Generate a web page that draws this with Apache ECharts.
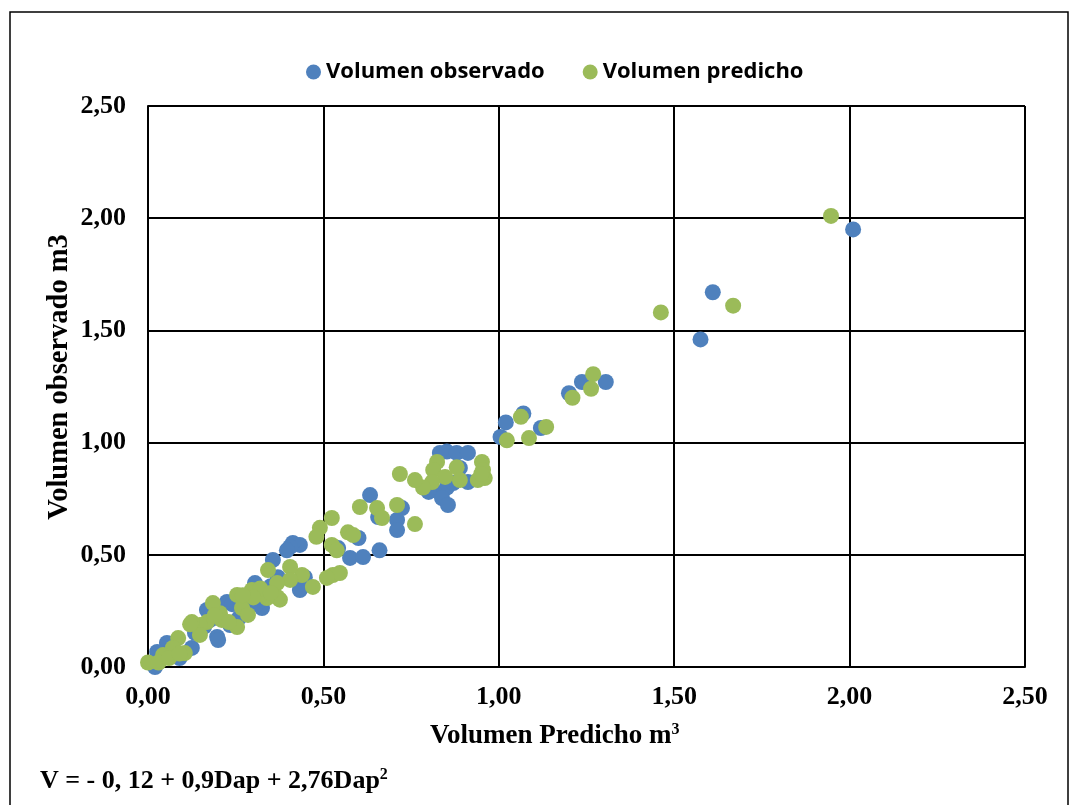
<!DOCTYPE html>
<html>
<head>
<meta charset="utf-8">
<script src="https://cdn.jsdelivr.net/npm/echarts@6/dist/echarts.min.js"></script>
<style>
  html, body { margin: 0; padding: 0; background: #fff; }
  #chart { width: 1071px; height: 805px; }
</style>
</head>
<body>
<div id="chart"></div>
<script>
// [predicho, observado]
var volObservado = [
  [2.01, 1.95], [1.61, 1.67], [1.575, 1.46], [1.305, 1.27], [1.237, 1.27],
  [1.20, 1.22], [1.12, 1.065], [1.07, 1.13], [1.02, 1.09], [1.005, 1.025],
  [0.832, 0.954], [0.852, 0.96], [0.88, 0.954], [0.912, 0.954], [0.889, 0.887],
  [0.912, 0.824], [0.852, 0.80], [0.813, 0.79], [0.80, 0.78], [0.838, 0.753],
  [0.855, 0.722], [0.87, 0.82], [0.633, 0.766], [0.656, 0.668], [0.724, 0.708],
  [0.71, 0.655], [0.71, 0.61], [0.60, 0.575], [0.542, 0.53], [0.576, 0.486],
  [0.613, 0.49], [0.66, 0.52], [0.433, 0.544], [0.413, 0.553], [0.405, 0.535],
  [0.396, 0.52], [0.356, 0.477], [0.447, 0.40], [0.433, 0.343], [0.44, 0.40],
  [0.305, 0.374], [0.325, 0.263], [0.225, 0.29], [0.234, 0.187], [0.168, 0.254],
  [0.177, 0.21], [0.197, 0.134], [0.20, 0.12], [0.134, 0.152], [0.125, 0.085],
  [0.054, 0.107], [0.026, 0.067], [0.02, 0.0], [0.26, 0.22], [0.37, 0.40],
  [0.09, 0.04], [0.04, 0.05], [0.07, 0.09], [0.16, 0.18], [0.28, 0.31],
  [0.31, 0.28], [0.35, 0.36], [0.24, 0.28]
];
var volPredicho = [
  [1.947, 2.01], [1.668, 1.61], [1.462, 1.58], [1.269, 1.305], [1.263, 1.24],
  [1.21, 1.20], [1.135, 1.07], [1.063, 1.115], [1.086, 1.02], [1.023, 1.01],
  [0.824, 0.914], [0.813, 0.878], [0.88, 0.89], [0.952, 0.914], [0.955, 0.878],
  [0.96, 0.842], [0.94, 0.833], [0.889, 0.833], [0.847, 0.847], [0.81, 0.824],
  [0.784, 0.80], [0.761, 0.833], [0.718, 0.86], [0.95, 0.86], [0.604, 0.713],
  [0.653, 0.708], [0.667, 0.664], [0.71, 0.722], [0.761, 0.637], [0.524, 0.664],
  [0.49, 0.62], [0.48, 0.58], [0.57, 0.60], [0.585, 0.588], [0.524, 0.544],
  [0.538, 0.52], [0.527, 0.41], [0.547, 0.419], [0.51, 0.397], [0.47, 0.357],
  [0.439, 0.41], [0.405, 0.446], [0.376, 0.30], [0.342, 0.432], [0.405, 0.388],
  [0.368, 0.374], [0.368, 0.312], [0.339, 0.307], [0.296, 0.343], [0.254, 0.321],
  [0.268, 0.263], [0.285, 0.232], [0.254, 0.178], [0.205, 0.24], [0.185, 0.285],
  [0.168, 0.20], [0.148, 0.187], [0.148, 0.143], [0.125, 0.20], [0.086, 0.129],
  [0.071, 0.085], [0.105, 0.062], [0.043, 0.053], [0.0, 0.02], [0.03, 0.02],
  [0.06, 0.04], [0.09, 0.06], [0.12, 0.19], [0.21, 0.21], [0.23, 0.20],
  [0.32, 0.35], [0.35, 0.33], [0.30, 0.31], [0.19, 0.23], [0.27, 0.32]
];
var serieNames = ['Volumen observado', 'Volumen predicho'];
var serieColors = ['#4F81BD', '#9BBB59'];

var serif = '"Liberation Serif", "Times New Roman", serif';

function fmt(v) {
  return v.toFixed(2).replace('.', ',');
}

var chart = echarts.init(document.getElementById('chart'));

var option = {
  animation: false,
  backgroundColor: '#fff',
  legend: {
    data: serieNames,
    left: 301,
    top: 56,
    icon: 'circle',
    itemWidth: 15,
    itemHeight: 15,
    itemGap: 38,
    textStyle: {
      fontFamily: '"Open Sans", sans-serif',
      fontWeight: 'bold',
      fontSize: 22,
      color: '#000'
    }
  },
  grid: { left: 148, right: 46, top: 106, bottom: 138 },
  xAxis: {
    type: 'value',
    min: 0, max: 2.5, interval: 0.5,
    axisLine: { lineStyle: { color: '#000', width: 2 } },
    axisTick: { show: false },
    splitLine: { lineStyle: { color: '#000', width: 2 } },
    axisLabel: {
      margin: 17,
      formatter: fmt,
      fontFamily: serif, fontWeight: 'bold', fontSize: 26, color: '#000'
    }
  },
  yAxis: {
    type: 'value',
    min: 0, max: 2.5, interval: 0.5,
    axisLine: { show: true, lineStyle: { color: '#000', width: 2 } },
    axisTick: { show: false },
    splitLine: { lineStyle: { color: '#000', width: 2 } },
    axisLabel: {
      margin: 22,
      formatter: fmt,
      fontFamily: serif, fontWeight: 'bold', fontSize: 26, color: '#000'
    }
  },
  graphic: [
    {
      type: 'rect', z: -1, silent: true,
      shape: { x: 10, y: 12, width: 1058, height: 820 },
      style: { fill: null, stroke: '#000', lineWidth: 1.5 }
    },
    {
      type: 'text', x: 60, y: 377, rotation: Math.PI / 2,
      style: {
        text: 'Volumen observado m3',
        align: 'center', verticalAlign: 'middle',
        fontFamily: serif, fontWeight: 'bold', fontSize: 28.5, fill: '#000'
      }
    },
    {
      type: 'text', left: 430, top: 722,
      style: {
        text: '{a|Volumen Predicho m}{s|3}',
        rich: {
          a: { fontFamily: serif, fontWeight: 'bold', fontSize: 27, color: '#000' },
          s: { fontFamily: serif, fontWeight: 'bold', fontSize: 16, color: '#000', verticalAlign: 'top', padding: [0, 0, 12, 0] }
        }
      }
    },
    {
      type: 'text', left: 40, top: 767,
      style: {
        text: '{a|V = - 0, 12 + 0,9Dap + 2,76Dap}{s|2}',
        rich: {
          a: { fontFamily: serif, fontWeight: 'bold', fontSize: 26, color: '#000' },
          s: { fontFamily: serif, fontWeight: 'bold', fontSize: 16, color: '#000', verticalAlign: 'top', padding: [0, 0, 12, 0] }
        }
      }
    }
  ],
  series: [
    {
      name: serieNames[0],
      type: 'scatter',
      symbolSize: 16,
      itemStyle: { color: serieColors[0], opacity: 1 },
      data: volObservado
    },
    {
      name: serieNames[1],
      type: 'scatter',
      symbolSize: 16,
      itemStyle: { color: serieColors[1], opacity: 1 },
      data: volPredicho
    }
  ]
};

chart.setOption(option);
</script>
</body>
</html>
